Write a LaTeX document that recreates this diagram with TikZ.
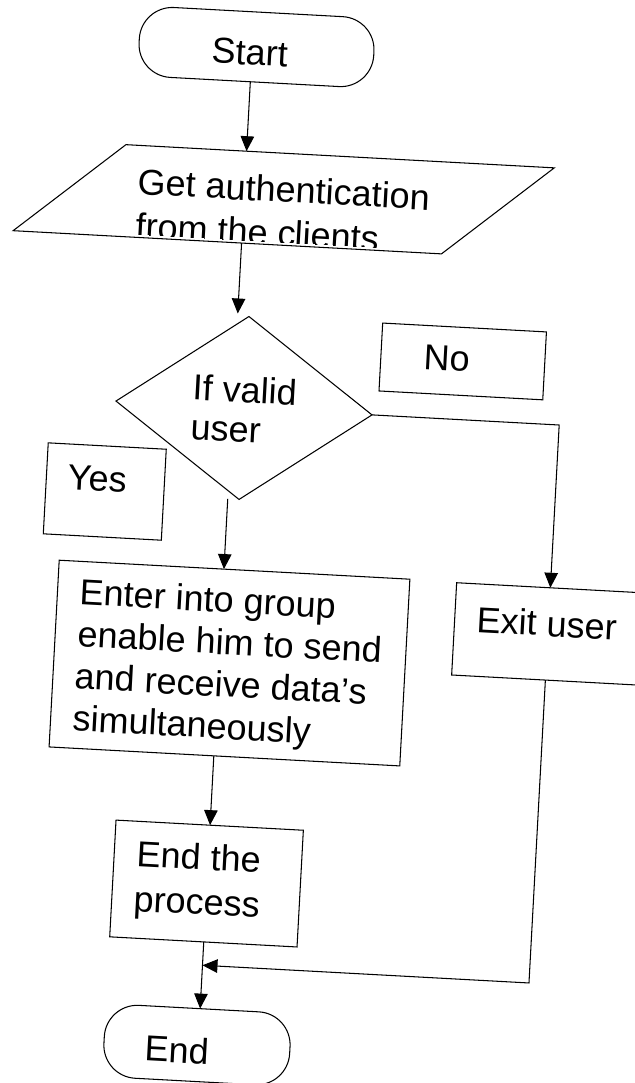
\documentclass[tikz,border=0pt]{standalone}
\usepackage{fontspec}
\setmainfont{Liberation Sans}
\usetikzlibrary{arrows.meta,shapes.geometric,calc}
\newlength\pxu
\setlength\pxu{0.02cm}
% left-aligned block whose baseline is the first line's baseline
\newcommand\stack[1]{\begin{tabular}[t]{@{}l@{}}#1\end{tabular}}
\begin{document}
\begin{tikzpicture}[x=0.02cm, y=-0.02cm,
  every node/.style={inner sep=0pt, outer sep=0pt},
  txt/.style={anchor=base west, font=\fontsize{20.5}{24}\selectfont},
  shp/.style={draw, line width=0.6pt},
  boxwh/.style 2 args={shp, rectangle, minimum width=#1*\pxu, minimum height=#2*\pxu},
  term/.style 2 args={shp, rectangle, rounded corners=0.66cm, minimum width=#1*\pxu, minimum height=#2*\pxu},
  frame/.style 2 args={rectangle, minimum width=#1*\pxu, minimum height=#2*\pxu},
  decision/.style={shp, diamond, minimum width=256.4*\pxu, minimum height=183.2*\pxu},
  edge/.style={line width=0.6pt},
  arr/.style={line width=0.6pt, -{Triangle[length=0.3cm, width=0.27cm]}}]
\clip (0,0) rectangle (635,1083);
\fill[white] (0,0) rectangle (635,1083);
\begin{scope}[rotate=-3.1, transform shape]
  % shapes
  \node[term={235}{70}] (start) at (258.7,33.1) {};
  % input/output parallelogram: top edge shifted right of the bottom edge
  \node[frame={429}{92}] (auth) at (294.1,183.65) {};
  \draw[edge] ($(auth.south west)+(-54,0)$) -- ($(auth.south east)+(-54,0)$)
    -- ($(auth.north east)+(54,0)$) -- ($(auth.north west)+(54,0)$) -- cycle;
  \node[decision] (dia) at (265.7,394.2) {};
  \node[boxwh={164}{68}] (nobox) at (481.6,335.9) {};
  \node[boxwh={118.2}{91.1}] (yesbox) at (131.2,485.15) {};
  \node[boxwh={351.2}{187}] (enter) at (265.0,649.7) {};
  \node[boxwh={187.8}{92.4}] (exit) at (581.4,603.4) {};
  \node[boxwh={187.6}{116.9}] (endp) at (254.0,871.1) {};
  \node[term={186}{73}] (endt) at (253.2,1032.9) {};

  % labels
  \node[txt] (startlbl) at (214.2,51.35) {Start};
  \begin{scope}
    \clip ($(auth.south west)+(-54,-3)$) -- ($(auth.south east)+(-54,-3)$)
      -- ($(auth.north east)+(54,0)$) -- ($(auth.north west)+(54,0)$) -- cycle;
    \node[txt, font=\fontsize{20.5}{24.9}\selectfont] (authlbl) at (147.8,186.6)
      {\stack{Get authentication\\from the clients}};
  \end{scope}
  \node[txt, font=\fontsize{20.5}{22.8}\selectfont] (dialbl) at (213.7,388.6) {\stack{If valid\\user}};
  \node[txt] (nolbl) at (442.7,346) {No};
  \node[txt] (yeslbl) at (93.7,485) {Yes};
  \node[txt] (enterlbl) at (112.1,599.3)
    {\stack{Enter into group\\enable him to send\\and receive data’s\\simultaneously}};
  \node[txt] (exitlbl) at (509.8,605.6) {Exit user};
  \node[txt, font=\fontsize{20.5}{25.6}\selectfont] (endplbl) at (182.8,857.6) {\stack{End the\\process}};
  \node[txt] (endlbl) at (201.6,1051.5) {End};

  % main flow
  \draw[arr] ($(start.center)+(-4.3,35)$) -- ($(auth.center)+(-39.7,-46)$);
  \draw[arr] ($(auth.center)+(-39.7,46)$) -- ($(dia.center)+(-11.3,-94)$);
  \draw[arr] ($(dia.center)+(-11.3,91.6)$) -- ($(enter.center)+(-10.6,-93.5)$);
  \draw[arr] ($(enter.center)+(-10.6,93.5)$) -- ($(endp.center)+(0.4,-58.45)$);
  \draw[arr] ($(endp.center)+(0.4,58.45)$) -- ($(endt.north)+(1.2,0)$);

  % "No" branch and return
  \draw[arr] (dia.east) -- ($(exit.north)+(0,-163)$) -- (exit.north);
  \draw[arr] (exit.south) -- ($(exit.south)+(0,303.4)$) -- ($(endp.south)+(0.4,23.45)$);
\end{scope}
\end{tikzpicture}
\end{document}
